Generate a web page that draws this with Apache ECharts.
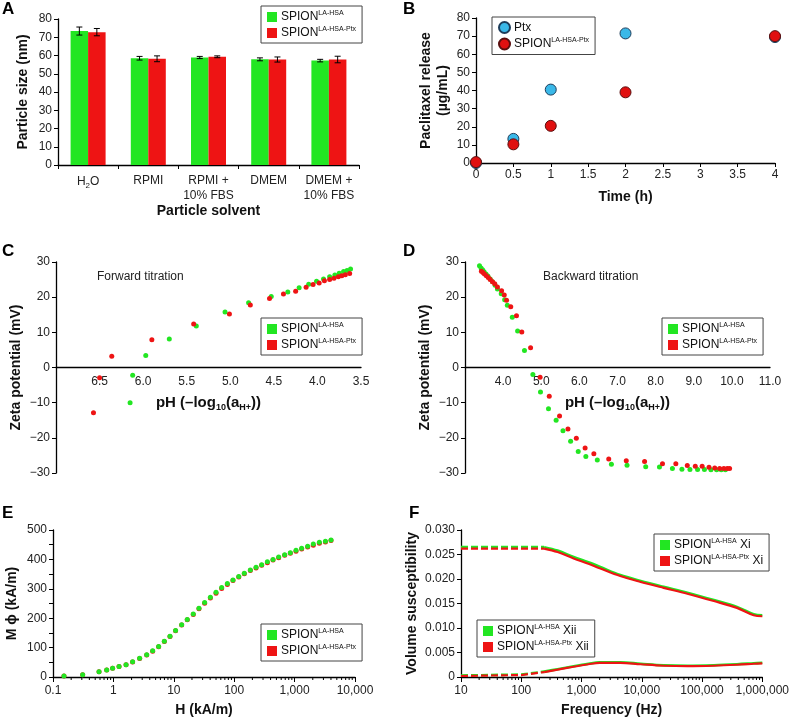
<!DOCTYPE html>
<html><head><meta charset="utf-8">
<script src="https://cdn.jsdelivr.net/npm/echarts@6/dist/echarts.min.js"></script>
<style>html,body{margin:0;padding:0;background:#fff}#c{width:792px;height:720px}</style>
</head><body><div id="c"></div>
<script>
// ---------- Panel A: particle size ----------
const solventCats = ['H2O', 'RPMI', 'RPMI +\n10% FBS', 'DMEM', 'DMEM +\n10% FBS'];
const sizeHSA = [73.4, 58.5, 58.9, 57.9, 57.2];
const sizeHSAErr = [2.2, 1.0, 0.6, 0.8, 0.7];
const sizePtx = [72.8, 58.2, 59.3, 57.8, 57.8];
const sizePtxErr = [2.0, 1.6, 0.5, 1.4, 1.8];
const sizeTicks = [0, 80, 10];

// ---------- Panel B: paclitaxel release ----------
const timeH = [0, 0.5, 1, 2, 4];
const releasePtx = [0, 13.3, 40.5, 71.5, 69.5];
const releaseSpion = [0.5, 10.3, 20.5, 39.0, 70.0];

// ---------- Panel C: forward titration [pH, mV] ----------
const fwdHSA = [[6.12,-2.2],[6.15,-10.0],[5.97,3.4],[5.70,8.1],[5.39,11.8],[5.06,15.8],[4.79,18.4],[4.53,20.2],[4.34,21.5],[4.21,22.7],[4.10,23.7],[4.01,24.5],[3.93,25.2],[3.86,25.8],[3.80,26.3],[3.75,26.8],[3.70,27.3],[3.66,27.6],[3.62,28.0]];
const fwdPtx = [[6.50,-2.9],[6.57,-12.9],[6.36,3.2],[5.90,7.9],[5.42,12.4],[5.01,15.2],[4.77,17.8],[4.55,19.6],[4.39,20.9],[4.25,21.7],[4.13,22.8],[4.05,23.6],[3.98,24.0],[3.92,24.7],[3.86,25.0],[3.81,25.4],[3.76,25.8],[3.72,26.1],[3.68,26.4],[3.63,26.7]];

// ---------- Panel D: backward titration [pH, mV] ----------
const bwdHSA = [[3.38,28.9],[3.42,28.3],[3.46,27.8],[3.50,27.2],[3.55,26.6],[3.60,26.0],[3.66,25.2],[3.72,24.4],[3.79,23.4],[3.85,22.3],[3.95,21.0],[4.04,19.3],[4.11,17.7],[4.24,14.3],[4.38,10.4],[4.56,4.8],[4.78,-2.0],[4.98,-7.0],[5.19,-11.7],[5.39,-15.0],[5.57,-18.0],[5.77,-21.0],[5.97,-23.9],[6.17,-25.3],[6.47,-26.3],[6.84,-27.5],[7.25,-27.8],[7.74,-28.2],[8.10,-28.3],[8.44,-28.7],[8.69,-28.9],[8.90,-29.0],[9.10,-29.0],[9.28,-29.0],[9.45,-29.1],[9.60,-29.1],[9.72,-29.1],[9.83,-29.1]];
const bwdPtx = [[3.43,27.4],[3.47,27.0],[3.51,26.6],[3.56,26.1],[3.61,25.6],[3.66,25.0],[3.72,24.4],[3.78,23.8],[3.85,22.9],[3.96,21.8],[4.03,20.6],[4.09,19.1],[4.20,17.3],[4.35,14.7],[4.49,10.1],[4.72,5.6],[4.97,-2.8],[5.21,-8.2],[5.48,-13.8],[5.70,-17.5],[5.92,-20.1],[6.15,-22.9],[6.38,-24.5],[6.77,-26.0],[7.23,-26.5],[7.71,-26.7],[8.18,-27.4],[8.53,-27.4],[8.83,-27.9],[9.04,-28.1],[9.22,-28.1],[9.40,-28.4],[9.55,-28.6],[9.68,-28.7],[9.79,-28.7],[9.88,-28.7],[9.94,-28.7]];

// ---------- Panel E: magnetization ----------
const fieldH = [0.152,0.31,0.578,0.775,0.97,1.24,1.62,2.08,2.72,3.56,4.47,5.61,6.97,8.65,10.7,13.5,16.7,21,26.1,32.4,40.3,50,62,77,95.5,119,147,185,230,285,354,439,545,685,850,1055,1310,1645,2040,2570,3240,4010];
const magHSA = [3.4,8,18,24,30,36,42,52,64,76,89,104,122,139,158,178,196,214,234,253,271,288,304,318,330,342,353,364,373,382,392,400,408,416,423,431,438,445,452,458,462,466];
const magPtx = [3.2,7.5,17.5,23.5,29.5,35.5,41.5,51,63,75,88,103,121,138,157,177,195,213,232,251,269,285,301,315,328,340,351,362,371,380,389,398,406,414,421,428,435,442,448,455,459,464];
const logMultipliers = [2,3,4,5,6,7,8,9];
const fieldDecades = [0.1, 1, 10, 100, 1000];

// ---------- Panel F: volume susceptibility ----------
const freqHz = [10,30,100,240,400,740,1300,2000,4400,9600,23000,57000,157000,380000,720000,1000000];
const xiHSA  = [0.0265,0.0265,0.0265,0.0265,0.0258,0.0245,0.0234,0.0225,0.0208,0.0196,0.0184,0.0172,0.0157,0.0143,0.0128,0.0126];
const xiPtx  = [0.0262,0.0262,0.0262,0.0262,0.0255,0.0242,0.0231,0.0222,0.0206,0.0194,0.0182,0.0170,0.0155,0.0141,0.0126,0.0124];
const xiiHSA = [0.0003,0.0004,0.0005,0.0011,0.0016,0.0022,0.0027,0.0030,0.0030,0.0027,0.0024,0.0023,0.0024,0.0026,0.0028,0.0029];
const xiiPtx = [0.0002,0.0003,0.0004,0.0010,0.0015,0.0021,0.0026,0.0029,0.0029,0.0026,0.0023,0.0022,0.0023,0.0025,0.0027,0.0028];
const freqDashedUpTo = 240;
const freqDecades = [10, 100, 1000, 10000, 100000];

// ---------- styling ----------
const FONT = 'Arial, "Liberation Sans", Helvetica, sans-serif';
const GREEN = '#22e622';
const RED = '#ee1414';
const CYAN = '#3ab8e8';

const legendLabels = {
  'A-HSA': '{n|SPION}{s|LA-HSA}', 'A-Ptx': '{n|SPION}{s|LA-HSA-Ptx}',
  'B-Ptx': '{n|Ptx}', 'B-SPION': '{n|SPION}{s|LA-HSA-Ptx}',
  'C-HSA': '{n|SPION}{s|LA-HSA}', 'C-Ptx': '{n|SPION}{s|LA-HSA-Ptx}',
  'D-HSA': '{n|SPION}{s|LA-HSA}', 'D-Ptx': '{n|SPION}{s|LA-HSA-Ptx}',
  'E-HSA': '{n|SPION}{s|LA-HSA}', 'E-Ptx': '{n|SPION}{s|LA-HSA-Ptx}',
  'F-HSA-Xi': '{n|SPION}{s|LA-HSA}{n| Xi}', 'F-Ptx-Xi': '{n|SPION}{s|LA-HSA-Ptx}{n| Xi}',
  'F-HSA-Xii': '{n|SPION}{s|LA-HSA}{n| Xii}', 'F-Ptx-Xii': '{n|SPION}{s|LA-HSA-Ptx}{n| Xii}'
};
const richLegend = {
  n: {fontSize: 12, fontFamily: FONT, color: '#111', lineHeight: 14},
  s: {fontSize: 7, fontFamily: FONT, color: '#111', verticalAlign: 'top', lineHeight: 14, padding: [0, 0, 0, 0]}
};
function makeLegend(names, left, top, icon, size) {
  return {
    data: names, left: left, top: top, orient: 'vertical', icon: icon || 'rect',
    itemWidth: size || 10, itemHeight: size || 10, itemGap: 3,
    padding: [4, 6, 4, 6], borderColor: '#444', borderWidth: 1,
    selectedMode: false,
    formatter: n => legendLabels[n],
    textStyle: {rich: richLegend, fontSize: 12, fontFamily: FONT, color: '#111', padding: [0, 0, 0, -1]}
  };
}

function merge(a, b) {
  const out = Object.assign({}, a);
  for (const k in b) {
    if (b[k] && typeof b[k] === 'object' && !Array.isArray(b[k]) && a[k] && typeof a[k] === 'object') out[k] = merge(a[k], b[k]);
    else out[k] = b[k];
  }
  return out;
}
const baseAxis = {
  axisLine: {show: true, onZero: false, lineStyle: {color: '#000', width: 1.3}},
  axisTick: {show: true, length: 4, inside: false, lineStyle: {color: '#000', width: 1}},
  axisLabel: {color: '#222', fontSize: 12, fontFamily: FONT, margin: 6},
  splitLine: {show: false},
  nameLocation: 'middle',
  nameTextStyle: {fontSize: 14, fontWeight: 'bold', fontFamily: FONT, color: '#111'}
};
const ax = o => merge(baseAxis, o);

const subRich = {
  n: {fontSize: 15, fontWeight: 'bold', fontFamily: FONT, color: '#111'},
  sub: {fontSize: 9, fontWeight: 'bold', fontFamily: FONT, color: '#111', verticalAlign: 'bottom', lineHeight: 20}
};
const pHName = '{n|pH (\u2013log}{sub|10}{n|(a}{sub|H+}{n|))}';
// C/D: x axis drawn through y = 0 (grid height 211 px, range -30..30 → zero is 105.5 px above the bottom)
const zeroOffset = -105.5;

function minorTickList(decades) {
  const out = [];
  decades.forEach(d => logMultipliers.forEach(m => out.push([m * d, 0])));
  return out;
}
function minorTickRender(params, api) {
  const p = api.coord([api.value(0), api.value(1)]);
  return {type: 'line', shape: {x1: p[0], y1: p[1], x2: p[0], y2: p[1] + 3}, style: {stroke: '#000', lineWidth: 1}};
}
function errRender(offset) {
  return function (params, api) {
    const i = api.value(0), v = api.value(1), e = api.value(2);
    const t = api.coord([i, v + e]), b = api.coord([i, v - e]);
    const x = t[0] + offset, cap = 3;
    const st = {stroke: '#000', lineWidth: 1};
    return {type: 'group', children: [
      {type: 'line', shape: {x1: x, y1: t[1], x2: x, y2: b[1]}, style: st},
      {type: 'line', shape: {x1: x - cap, y1: t[1], x2: x + cap, y2: t[1]}, style: st},
      {type: 'line', shape: {x1: x - cap, y1: b[1], x2: x + cap, y2: b[1]}, style: st}
    ]};
  };
}
const commaFmt = v => Number(v.toPrecision(6)).toLocaleString('en-US');
const minus = v => (v < 0 ? '\u2212' + Math.abs(v) : String(v));

const option = {
  animation: false,
  backgroundColor: '#fff',
  textStyle: {fontFamily: FONT},
  grid: [
    {left: 58, top: 19, width: 301, height: 146},
    {left: 476, top: 18, width: 299, height: 145},
    {left: 56, top: 262, width: 305, height: 211},
    {left: 465, top: 262, width: 305, height: 211},
    {left: 53, top: 530, width: 302, height: 147},
    {left: 461, top: 530, width: 305, height: 147}
  ],
  xAxis: [
    ax({gridIndex: 0, type: 'category', data: solventCats, name: 'Particle solvent', nameGap: 38,
        axisTick: {alignWithLabel: false},
        axisLabel: {interval: 0, margin: 8, lineHeight: 15, formatter: v => (v === 'H2O' ? 'H{sub|2}O' : v),
          rich: {sub: {fontSize: 8, verticalAlign: 'bottom', lineHeight: 17, fontFamily: FONT, color: '#222'}}}}),
    ax({gridIndex: 1, type: 'value', min: 0, max: 4, interval: 0.5, name: 'Time (h)', nameGap: 27,
        axisLabel: {formatter: v => String(v)}}),
    ax({gridIndex: 2, type: 'value', min: 3.5, max: 7, interval: 0.5, inverse: true, name: pHName, nameGap: 25,
        offset: zeroOffset, axisTick: {show: false},
        nameTextStyle: {rich: subRich},
        axisLabel: {showMaxLabel: false, formatter: v => v.toFixed(1), margin: 8}}),
    ax({gridIndex: 3, type: 'value', min: 3, max: 11, interval: 1, name: pHName, nameGap: 25,
        offset: zeroOffset, axisTick: {show: false},
        nameTextStyle: {rich: subRich},
        axisLabel: {showMinLabel: false, formatter: v => v.toFixed(1), margin: 8}}),
    ax({gridIndex: 4, type: 'log', logBase: 10, min: 0.1, max: 10000, name: 'H (kA/m)', nameGap: 26,
        axisTick: {length: 5}, axisLabel: {formatter: commaFmt, margin: 8}}),
    ax({gridIndex: 5, type: 'log', logBase: 10, min: 10, max: 1000000, name: 'Frequency (Hz)', nameGap: 26,
        axisTick: {length: 5}, axisLabel: {formatter: commaFmt, margin: 8}})
  ],
  yAxis: [
    ax({gridIndex: 0, type: 'value', min: sizeTicks[0], max: sizeTicks[1], interval: sizeTicks[2], name: 'Particle size (nm)', nameGap: 28}),
    ax({gridIndex: 1, type: 'value', min: 0, max: 80, interval: 10, name: 'Paclitaxel release\n(\u00b5g/mL)', nameGap: 24,
        nameTextStyle: {lineHeight: 17}}),
    ax({gridIndex: 2, type: 'value', min: -30, max: 30, interval: 10, name: 'Zeta potential (mV)', nameGap: 33,
        axisLabel: {formatter: minus}}),
    ax({gridIndex: 3, type: 'value', min: -30, max: 30, interval: 10, name: 'Zeta potential (mV)', nameGap: 33,
        axisLabel: {formatter: minus}}),
    ax({gridIndex: 4, type: 'value', min: 0, max: 500, interval: 50, name: 'M \u03d5 (kA/m)', nameGap: 34,
        axisLabel: {formatter: v => (v % 100 === 0 ? String(v) : '')}}),
    ax({gridIndex: 5, type: 'value', min: 0, max: 0.03, interval: 0.005, name: 'Volume susceptibility', nameGap: 42,
        axisLabel: {formatter: v => (v === 0 ? '0' : v.toFixed(3))}})
  ],
  legend: [
    makeLegend(['A-HSA', 'A-Ptx'], 261, 6),
    makeLegend(['B-Ptx', 'B-SPION'], 492, 17, 'circle', 11),
    makeLegend(['C-HSA', 'C-Ptx'], 261, 318),
    makeLegend(['D-HSA', 'D-Ptx'], 662, 318),
    makeLegend(['E-HSA', 'E-Ptx'], 261, 624),
    makeLegend(['F-HSA-Xi', 'F-Ptx-Xi'], 654, 534),
    makeLegend(['F-HSA-Xii', 'F-Ptx-Xii'], 477, 620)
  ],
  graphic: [
    {type: 'text', left: 2, top: 1, style: {text: 'A', font: 'bold 17px ' + FONT, fill: '#000'}},
    {type: 'text', left: 403, top: 1, style: {text: 'B', font: 'bold 17px ' + FONT, fill: '#000'}},
    {type: 'text', left: 2, top: 243, style: {text: 'C', font: 'bold 17px ' + FONT, fill: '#000'}},
    {type: 'text', left: 403, top: 243, style: {text: 'D', font: 'bold 17px ' + FONT, fill: '#000'}},
    {type: 'text', left: 2, top: 505, style: {text: 'E', font: 'bold 17px ' + FONT, fill: '#000'}},
    {type: 'text', left: 409, top: 505, style: {text: 'F', font: 'bold 17px ' + FONT, fill: '#000'}},
    {type: 'text', left: 97, top: 271, style: {text: 'Forward titration', font: '12px ' + FONT, fill: '#222'}},
    {type: 'text', left: 543, top: 271, style: {text: 'Backward titration', font: '12px ' + FONT, fill: '#222'}}
  ],
  series: []
};

const S = option.series;
// A
S.push({type: 'bar', name: 'A-HSA', xAxisIndex: 0, yAxisIndex: 0, data: sizeHSA, barWidth: 17.5, barGap: '0%', itemStyle: {color: GREEN}});
S.push({type: 'bar', name: 'A-Ptx', xAxisIndex: 0, yAxisIndex: 0, data: sizePtx, barWidth: 17.5, barGap: '0%', itemStyle: {color: RED}});
S.push({type: 'custom', name: 'errA1', xAxisIndex: 0, yAxisIndex: 0, renderItem: errRender(-8.75), encode: {x: 0, y: 1}, z: 5, silent: true,
  data: sizeHSA.map((v, i) => [i, v, sizeHSAErr[i]])});
S.push({type: 'custom', name: 'errA2', xAxisIndex: 0, yAxisIndex: 0, renderItem: errRender(8.75), encode: {x: 0, y: 1}, z: 5, silent: true,
  data: sizePtx.map((v, i) => [i, v, sizePtxErr[i]])});
// B
S.push({type: 'scatter', name: 'B-Ptx', xAxisIndex: 1, yAxisIndex: 1, symbolSize: 11,
  itemStyle: {color: CYAN, borderColor: '#1d3c5a', borderWidth: 1, opacity: 1},
  data: timeH.map((t, i) => [t, releasePtx[i]])});
S.push({type: 'scatter', name: 'B-SPION', xAxisIndex: 1, yAxisIndex: 1, symbolSize: 11,
  itemStyle: {color: '#e01010', borderColor: '#5a0f0f', borderWidth: 1, opacity: 1},
  data: timeH.map((t, i) => [t, releaseSpion[i]])});
// C
S.push({type: 'scatter', name: 'C-HSA', xAxisIndex: 2, yAxisIndex: 2, symbolSize: 5, itemStyle: {color: GREEN, opacity: 1}, data: fwdHSA});
S.push({type: 'scatter', name: 'C-Ptx', xAxisIndex: 2, yAxisIndex: 2, symbolSize: 5, itemStyle: {color: RED, opacity: 1}, data: fwdPtx});
// D
S.push({type: 'scatter', name: 'D-HSA', xAxisIndex: 3, yAxisIndex: 3, symbolSize: 5, itemStyle: {color: GREEN, opacity: 1}, data: bwdHSA});
S.push({type: 'scatter', name: 'D-Ptx', xAxisIndex: 3, yAxisIndex: 3, symbolSize: 5, itemStyle: {color: RED, opacity: 1}, data: bwdPtx});
// E
S.push({type: 'scatter', name: 'E-Ptx', xAxisIndex: 4, yAxisIndex: 4, symbolSize: 5, itemStyle: {color: RED, opacity: 1},
  data: fieldH.map((h, i) => [h, magPtx[i]])});
S.push({type: 'scatter', name: 'E-HSA', xAxisIndex: 4, yAxisIndex: 4, symbolSize: 5, itemStyle: {color: GREEN, opacity: 1},
  data: fieldH.map((h, i) => [h, magHSA[i]])});
S.push({type: 'custom', name: 'minorE', xAxisIndex: 4, yAxisIndex: 4, renderItem: minorTickRender, encode: {x: 0, y: 1},
  clip: false, silent: true, data: minorTickList(fieldDecades)});
// F
function fLines(name, vals, color, width) {
  const pts = freqHz.map((f, i) => [f, vals[i]]);
  const dashed = pts.filter(p => p[0] <= freqDashedUpTo);
  const solid = pts.filter(p => p[0] >= freqDashedUpTo);
  return [
    {type: 'line', name: name, xAxisIndex: 5, yAxisIndex: 5, data: dashed, showSymbol: false, symbol: 'none',
      lineStyle: {color: color, width: width, type: [7, 3]}, itemStyle: {color: color}},
    {type: 'line', name: name, xAxisIndex: 5, yAxisIndex: 5, data: solid, showSymbol: false, symbol: 'none', smooth: 0.35,
      lineStyle: {color: color, width: width}, itemStyle: {color: color}}
  ];
}
fLines('F-HSA-Xi', xiHSA, GREEN, 2.6).forEach(s => S.push(s));
fLines('F-Ptx-Xi', xiPtx, RED, 2.2).forEach(s => S.push(s));
fLines('F-HSA-Xii', xiiHSA, GREEN, 2.6).forEach(s => S.push(s));
fLines('F-Ptx-Xii', xiiPtx, RED, 2.2).forEach(s => S.push(s));
S.push({type: 'custom', name: 'minorF', xAxisIndex: 5, yAxisIndex: 5, renderItem: minorTickRender, encode: {x: 0, y: 1},
  clip: false, silent: true, data: minorTickList(freqDecades)});

const chart = echarts.init(document.getElementById('c'), null, {renderer: 'canvas'});
chart.setOption(option);
</script>
</body></html>
